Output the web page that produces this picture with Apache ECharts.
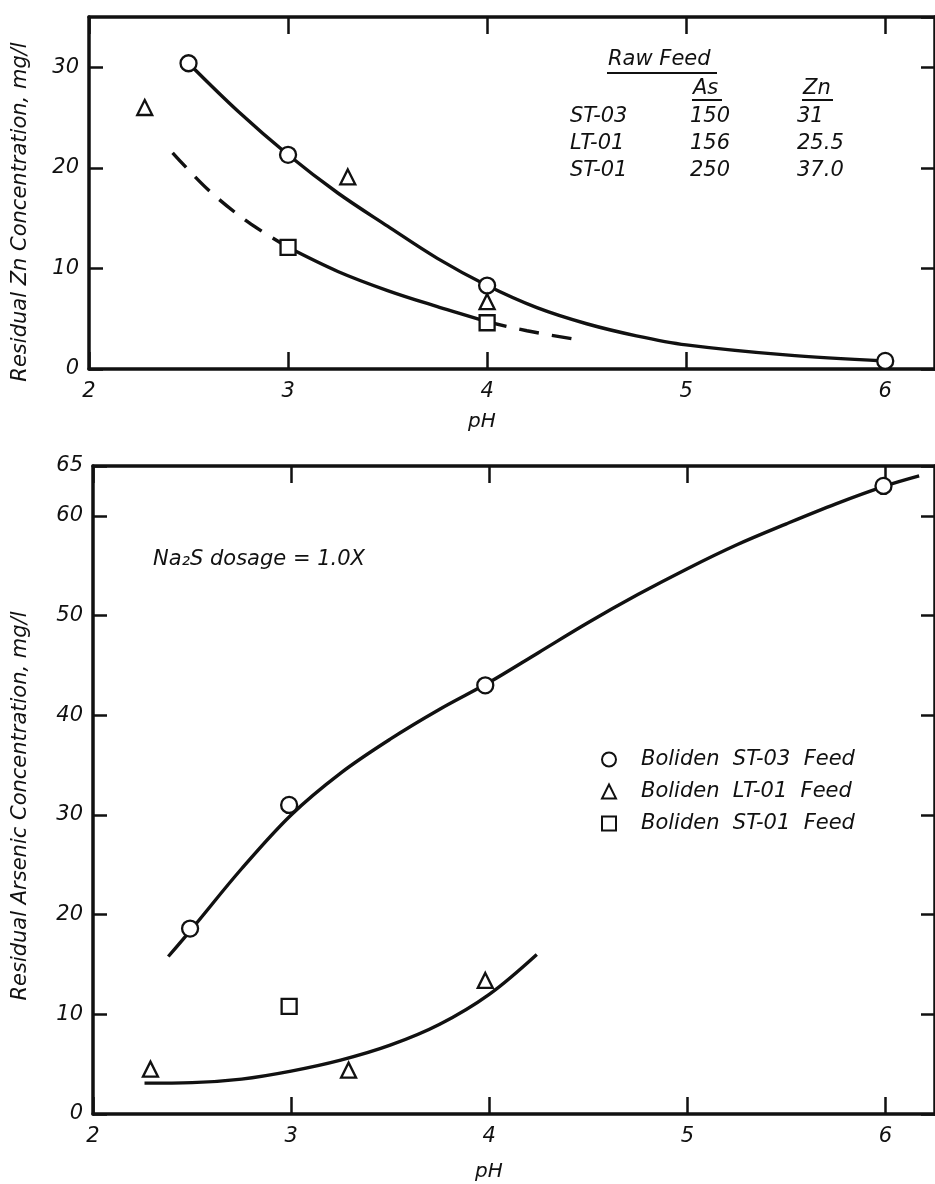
<!DOCTYPE html>
<html>
<head>
<meta charset="utf-8">
<script src="https://cdn.jsdelivr.net/npm/echarts@6/dist/echarts.min.js"></script>
<style>html,body{margin:0;padding:0;background:#fff}#c{width:935px;height:1184px}</style>
</head>
<body>
<div id="c"></div>
<script>
// ---------- DATA ----------
const seriesNames = ['Boliden ST-03 Feed', 'Boliden LT-01 Feed', 'Boliden ST-01 Feed'];
const xTicks = ['2', '3', '4', '5', '6'];
const yNameTop = 'Residual Zn Concentration, mg/l';
const yNameBottom = 'Residual Arsenic Concentration, mg/l';

// Top panel: residual Zn (mg/l) vs pH
const znST03 = [[2.5, 30.4], [3.0, 21.3], [4.0, 8.3], [6.0, 0.8]];
const znLT01 = [[2.28, 26.0], [3.3, 19.1], [4.0, 6.7]];
const znST01 = [[3.0, 12.1], [4.0, 4.6]];
const znFitST03 = [[2.5, 30.4], [2.75, 25.6], [3.0, 21.3], [3.25, 17.5], [3.5, 14.2], [3.75, 11.0], [4.0, 8.3], [4.25, 6.1], [4.5, 4.5], [4.75, 3.3], [5.0, 2.4], [5.5, 1.4], [6.0, 0.8]];
const znFitST01DashA = [[2.42, 21.5], [2.6, 17.8], [2.8, 14.6], [3.0, 12.1]];
const znFitST01Solid = [[3.0, 12.1], [3.25, 9.7], [3.5, 7.8], [3.75, 6.2], [4.0, 4.7]];
const znFitST01DashB = [[4.0, 4.7], [4.2, 3.8], [4.43, 3.0]];

// Bottom panel: residual As (mg/l) vs pH
const asST03 = [[2.49, 18.6], [2.99, 31.0], [3.98, 43.0], [5.99, 63.0]];
const asLT01 = [[2.29, 4.5], [3.29, 4.4], [3.98, 13.4]];
const asST01 = [[2.99, 10.8]];
const asFitST03 = [[2.38, 15.8], [2.5, 18.6], [2.75, 24.6], [3.0, 30.0], [3.25, 34.2], [3.5, 37.6], [3.75, 40.6], [4.0, 43.3], [4.25, 46.3], [4.5, 49.3], [4.75, 52.1], [5.0, 54.7], [5.25, 57.1], [5.5, 59.2], [5.75, 61.2], [6.0, 63.0], [6.17, 64.0]];
const asFitLT01 = [[2.26, 3.1], [2.5, 3.15], [2.75, 3.5], [3.0, 4.3], [3.25, 5.4], [3.5, 6.9], [3.75, 9.0], [4.0, 12.0], [4.24, 16.0]];

// Raw feed table
const feedNames = ['ST-03', 'LT-01', 'ST-01'];
const feedAs = ['150', '156', '250'];
const feedZn = ['31', '25.5', '37.0'];

// ---------- STYLE ----------
const INK = '#111';
const FONT = 'DejaVu Sans';
const txt = (size) => ({ fontFamily: FONT, fontStyle: 'italic', fontSize: size, color: INK });

function xAxisPair(gridIndex) {
  const base = {
    type: 'value', gridIndex, min: 2, max: 6.25, interval: 1,
    splitLine: { show: false },
    axisLine: { show: true, onZero: false, lineStyle: { color: INK, width: 3.5 } },
    axisTick: { show: true, inside: true, length: 17, lineStyle: { color: INK, width: 2.5 } }
  };
  return [
    Object.assign({}, base, { position: 'bottom',
      axisLabel: { show: true, margin: 12, showMaxLabel: false, ...txt(21),
        formatter: v => xTicks[Math.round(v) - 2] || '' } }),
    Object.assign({}, base, { position: 'top', axisLabel: { show: false } })
  ];
}
function yAxisPair(gridIndex, max, showMax) {
  const base = {
    type: 'value', gridIndex, min: 0, max, interval: 10,
    splitLine: { show: false },
    axisLine: { show: true, onZero: false, lineStyle: { color: INK, width: 3.5 } },
    axisTick: { show: true, inside: true, length: 14, lineStyle: { color: INK, width: 2.5 } }
  };
  return [
    Object.assign({}, base, { position: 'left',
      axisLabel: { show: true, margin: 10, showMaxLabel: showMax, ...txt(21) } }),
    Object.assign({}, base, { position: 'right', axisLabel: { show: false } })
  ];
}

const sym = { color: '#fff', borderColor: INK, borderWidth: 2.3, opacity: 1 };
function scatter(name, data, symbol, size, xi, yi) {
  return { name, type: 'scatter', data, symbol, symbolSize: size, xAxisIndex: xi, yAxisIndex: yi,
    itemStyle: sym, z: 5, silent: true };
}
function fit(data, xi, yi, dashed) {
  return { type: 'line', data, smooth: 0.35, showSymbol: false, symbol: 'none', xAxisIndex: xi, yAxisIndex: yi,
    lineStyle: { color: INK, width: 3.4, type: dashed ? [20, 13] : 'solid' }, z: 3, silent: true };
}

const graphics = [];
function gtext(text, x, y, size, rot) {
  graphics.push({ type: 'text', x, y, rotation: rot || 0,
    style: { text, fontFamily: FONT, fontStyle: 'italic', fontSize: size, fill: INK,
      align: rot ? 'center' : 'left', verticalAlign: 'middle' } });
}
function gline(x1, y1, x2, y2) {
  graphics.push({ type: 'line', shape: { x1, y1, x2, y2 }, style: { stroke: INK, lineWidth: 2 } });
}
// axis titles
gtext(yNameTop, 21, 212, 21, Math.PI / 2);
gtext(yNameBottom, 21, 806, 21, Math.PI / 2);
gtext('pH', 468, 422, 20);
gtext('pH', 475, 1172, 20);
// Raw feed table
gtext('Raw Feed', 608, 60, 21); gline(607, 73, 717, 73);
gtext('As', 693, 89, 21); gline(692, 100, 722, 100);
gtext('Zn', 803, 89, 21); gline(802, 100, 833, 100);
const rowY = [117, 144, 171];
feedNames.forEach((n, i) => { gtext(n, 570, rowY[i], 21); gtext(feedAs[i], 690, rowY[i], 21); gtext(feedZn[i], 797, rowY[i], 21); });
// annotation
gtext('Na\u2082S dosage = 1.0X', 153, 560, 21);

const option = {
  backgroundColor: '#fff',
  animation: false,
  grid: [
    { left: 89, top: 17, right: -2, bottom: 815 },
    { left: 93, top: 466, right: -6, bottom: 70 }
  ],
  xAxis: [...xAxisPair(0), ...xAxisPair(1)],
  yAxis: [...yAxisPair(0, 35, false), ...yAxisPair(1, 65, true)],
  legend: {
    data: seriesNames, orient: 'vertical', left: 596, top: 744,
    itemWidth: 14, itemHeight: 14, itemGap: 11, selectedMode: false,
    formatter: n => n.replace(/ /g, '  '),
    textStyle: { ...txt(21), padding: [0, 0, 0, 20] }
  },
  graphic: graphics,
  series: [
    fit(znFitST03, 0, 0, false),
    fit(znFitST01DashA, 0, 0, true),
    fit(znFitST01Solid, 0, 0, false),
    fit(znFitST01DashB, 0, 0, true),
    scatter(seriesNames[0], znST03, 'circle', 16, 0, 0),
    scatter(seriesNames[1], znLT01, 'triangle', 15, 0, 0),
    scatter(seriesNames[2], znST01, 'rect', 15, 0, 0),
    fit(asFitST03, 2, 2, false),
    fit(asFitLT01, 2, 2, false),
    scatter(seriesNames[0], asST03, 'circle', 16, 2, 2),
    scatter(seriesNames[1], asLT01, 'triangle', 15, 2, 2),
    scatter(seriesNames[2], asST01, 'rect', 15, 2, 2)
  ]
};
const chart = echarts.init(document.getElementById('c'), null, { renderer: 'canvas' });
chart.setOption(option);
</script>
</body>
</html>
